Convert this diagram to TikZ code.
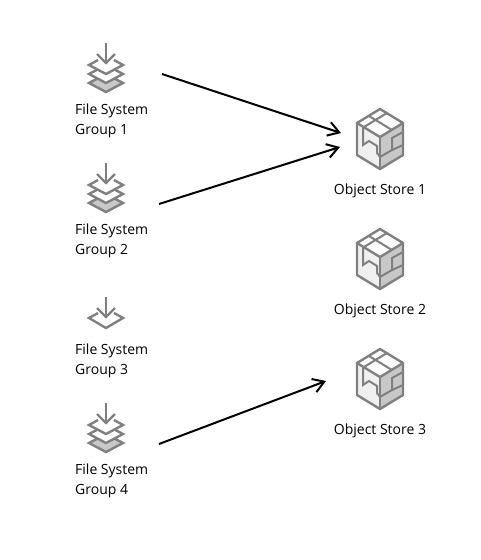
\documentclass[tikz,border=0pt]{standalone}
\usepackage{fontspec}
\setmainfont{Open Sans}
\usetikzlibrary{arrows.meta}
\definecolor{icongray}{HTML}{808080}
\definecolor{layergray}{HTML}{C8C8C8}
\definecolor{facelight}{HTML}{F0F0F0}
\begin{document}
\begin{tikzpicture}[
    x=1pt, y=-1pt,
    icon/.style={draw=icongray, line width=2.4pt, line join=miter},
    inner/.style={draw=icongray, line width=2pt},
    lbl/.style={font=\fontsize{14}{20}\selectfont, text=black, align=left, inner sep=0pt},
    arr/.style={-{Straight Barb[length=11pt, width=14pt, line width=2pt]}, line width=2pt, black},
  ]
    \useasboundingbox (0,0) rectangle (481,560);

    % ===== FILE SYSTEM GROUPS =====
    \foreach \n/\gy in {1/0,2/120,4/360}{
      \begin{scope}[yshift=-\gy pt]
        \filldraw[icon, fill=layergray] (89,83) -- (106,74) -- (123,83) -- (106,92) -- cycle;
        \filldraw[icon, fill=white] (89,74) -- (106,65) -- (123,74) -- (106,83) -- cycle;
        \fill[white] (89,65) -- (106,56) -- (123,65) -- (106,74) -- cycle;
        \draw[icon] (98,60) -- (89,65) -- (106,74) -- (123,65) -- (114,60);
        \draw[icon] (106,43) -- (106,63);
        \draw[icon] (97,54) -- (106,63) -- (115,54);
      \end{scope}
      \pgfmathsetmacro{\ly}{111 + \gy}
      \node[lbl, anchor=west] (fslabel\n) at (75,\ly) {File System};
      \pgfmathsetmacro{\ly}{131 + \gy}
      \node[lbl, anchor=west] (fsgroup\n) at (75,\ly) {Group \n};
    }

    % group 3 has the single chevron only
    \draw[icon] (98,313) -- (89,318) -- (106,328) -- (123,318) -- (114,313);
    \draw[icon] (106,297) -- (106,317);
    \draw[icon] (97,308) -- (106,317) -- (115,308);
    \node[lbl, anchor=west] (fslabel3) at (75,351) {File System};
    \node[lbl, anchor=west] (fsgroup3) at (75,371) {Group 3};

    % ===== OBJECT STORES =====
    \foreach \n/\gy in {1/0,2/120,3/240}{
      \begin{scope}[yshift=-\gy pt]
        \fill[white] (380,109) -- (403,123) -- (380,137) -- (357,123) -- cycle;
        \fill[facelight] (357,123) -- (380,137) -- (380,169) -- (357,155) -- cycle;
        \fill[layergray] (403,123) -- (380,137) -- (380,169) -- (403,155) -- cycle;
        \draw[inner] (364,127) -- (387,113);
        \draw[inner] (369,116) -- (392,130);
        \draw[inner] (363,127) -- (363,145) -- (369,141) -- (377,146) -- (377,153) -- (380,157);
        \draw[inner] (380,157) -- (392,150) -- (392,138) -- (403,132);
        \draw[inner] (392,150) -- (403,145);
        \draw[icon] (380,109) -- (403,123) -- (403,155) -- (380,169) -- (357,155) -- (357,123) -- cycle;
        \draw[icon] (357,123) -- (380,137) -- (403,123);
        \draw[icon] (380,137) -- (380,169);
      \end{scope}
      \pgfmathsetmacro{\ly}{191 + \gy}
      \node[lbl, anchor=center] (ostore\n) at (380,\ly) {Object Store \n};
    }

    % ===== CONNECTORS =====
    \coordinate (fsout1) at (162,74);
    \coordinate (fsout2) at (159,204);
    \coordinate (fsout4) at (159,444);
    \coordinate (osin1a) at (341,133);
    \coordinate (osin1b) at (340,147);
    \coordinate (osin3) at (326,381);
    \draw[arr] (fsout1) -- (osin1a);
    \draw[arr] (fsout2) -- (osin1b);
    \draw[arr] (fsout4) -- (osin3);
  \end{tikzpicture}
\end{document}
